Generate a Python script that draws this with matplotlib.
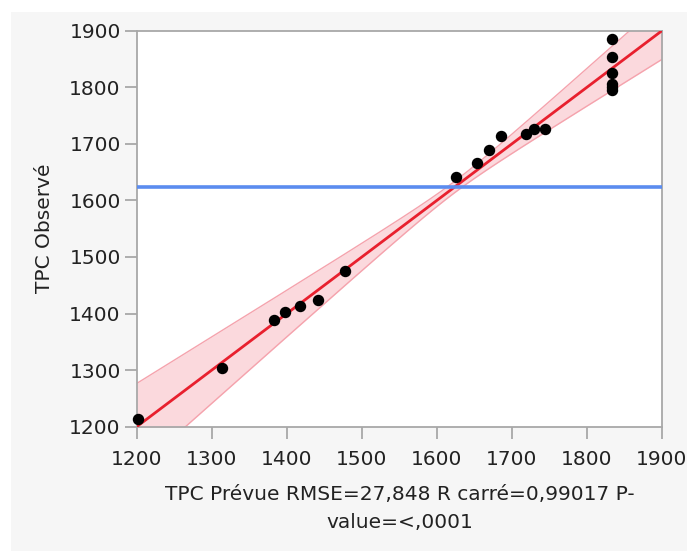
import numpy as np
import matplotlib
matplotlib.use("Agg")
import matplotlib.pyplot as plt
from matplotlib.patches import Rectangle

# TPC prévue / observée (20 observations)
tpc_prevue = [1202, 1313, 1383, 1398, 1417, 1442, 1478,
              1626, 1653, 1669, 1686, 1719, 1730, 1744,
              1833, 1833, 1833, 1833, 1833, 1833]
tpc_observe = [1213, 1303, 1388, 1403, 1413, 1424, 1475,
               1641, 1666, 1689, 1714, 1717, 1726, 1727,
               1885, 1853, 1825, 1806, 1800, 1796]

axis_ticks = [1200, 1300, 1400, 1500, 1600, 1700, 1800, 1900]
rmse = 27.848
band_crit = 5.7      # multiplicateur des courbes de confiance
band_center = 0.004  # terme résiduel au centre des courbes

x = np.array(tpc_prevue, dtype=float)
y = np.array(tpc_observe, dtype=float)
x_mean = x.mean()
sxx = np.sum((x - x_mean) ** 2)

plt.rcParams['font.family'] = ['DejaVu Sans']

fig = plt.figure(figsize=(6.87, 5.51), dpi=100)
fig.patch.set_facecolor('white')
# fond gris clair du rapport
fig.add_artist(Rectangle((11 / 687, 0), 1 - 11 / 687, 1 - 12 / 551,
                         transform=fig.transFigure, facecolor='#f6f6f6',
                         edgecolor='none', zorder=-1))

ax = fig.add_axes([0.199, 0.2256, 0.7646, 0.7187])
ax.set_facecolor('white')

# droite d'ajustement et courbes de confiance
xs = np.linspace(1200, 1900, 300)
half = band_crit * rmse * np.sqrt((xs - x_mean) ** 2 / sxx + band_center)
ax.fill_between(xs, xs - half, xs + half, color='#fbd3d8', alpha=0.85,
                linewidth=0, zorder=1)
ax.plot(xs, xs + half, color='#f5a3ad', linewidth=1, zorder=2)
ax.plot(xs, xs - half, color='#f5a3ad', linewidth=1, zorder=2)
ax.plot(xs, xs, color='#e8202e', linewidth=2, zorder=3)

# moyenne des valeurs observées
ax.axhline(y.mean(), color='#5b8cef', linewidth=2.6, zorder=3)

ax.scatter(x, y, s=52, color='black', zorder=4, clip_on=False)

ax.set_xlim(1200, 1900)
ax.set_ylim(1200, 1900)
ax.set_xticks(axis_ticks)
ax.set_yticks(axis_ticks)

for spine in ax.spines.values():
    spine.set_color('#a8a8a8')
    spine.set_linewidth(1.3)
ax.tick_params(axis='both', colors='#a8a8a8', length=8.5, width=1.3,
               labelsize=14.5, labelcolor='#222222')
ax.tick_params(axis='x', pad=8.5)
ax.tick_params(axis='y', pad=3)

ax.set_ylabel('TPC Observé', fontsize=14.5, color='#222222', labelpad=11)
ax.set_xlabel('TPC Prévue RMSE=27,848 R carré=0,99017 P-\nvalue=<,0001',
              fontsize=14.5, color='#222222', linespacing=1.65, labelpad=11)

fig.savefig('out.png', dpi=100)
